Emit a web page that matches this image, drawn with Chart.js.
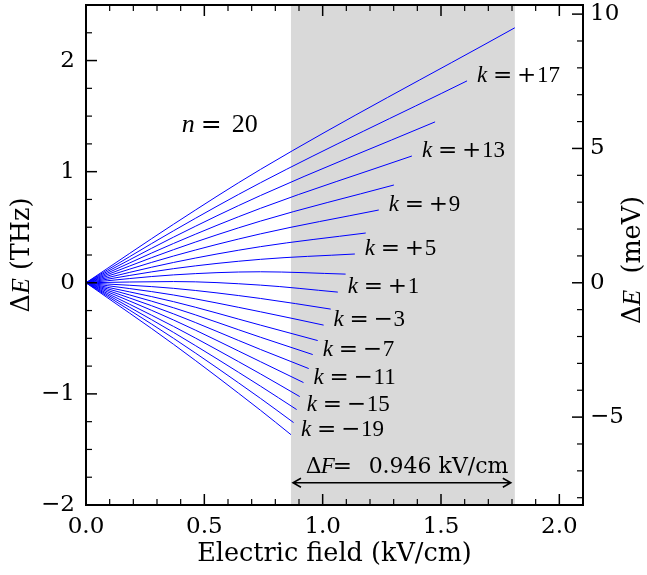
<!DOCTYPE html>
<html lang="en">
<head>
  <meta charset="UTF-8">
  <title>Stark map, n = 20</title>
  <script src="https://cdn.jsdelivr.net/npm/chart.js"></script>
  <style>
    html, body { margin: 0; padding: 0; background: #fff; }
    #wrap { width: 647px; height: 575px; }
  </style>
</head>
<body>
<div id="wrap"><canvas id="starkChart" width="647" height="575"></canvas></div>

<script>
  // Stark components of n = 20 (THz vs kV/cm)
  const kValues = [19, 17, 15, 13, 11, 9, 7, 5, 3, 1, -1, -3, -5, -7, -9, -11, -13, -15, -17, -19];
  const sampleFields = [0, 0.37, 0.737];
  const shiftAtF037 = [0.527, 0.468, 0.411, 0.354, 0.298, 0.241, 0.183, 0.127, 0.071, 0.011,
                       -0.050, -0.110, -0.170, -0.225, -0.280, -0.335, -0.393, -0.447, -0.500, -0.554];
  const shiftAtF0737 = [1.02, 0.90, 0.785, 0.67, 0.555, 0.44, 0.325, 0.211, 0.099, -0.021,
                        -0.141, -0.261, -0.381, -0.49, -0.60, -0.71, -0.82, -0.93, -1.04, -1.147];
  const endField = [1.812, 1.610, 1.475, 1.377, 1.301, 1.237, 1.182, 1.136, 1.097, 1.064,
                    1.034, 1.004, 0.979, 0.958, 0.941, 0.919, 0.903, 0.890, 0.877, 0.866];
  const endShift = [2.295, 1.817, 1.448, 1.141, 0.880, 0.655, 0.448, 0.259, 0.078, -0.084,
                    -0.237, -0.381, -0.520, -0.646, -0.772, -0.898, -1.024, -1.141, -1.258, -1.367];
  const labeledK = [17, 13, 9, 5, 1, -3, -7, -11, -15, -19];

  const xTicks = [0, 0.5, 1, 1.5, 2];
  const yTicksTHz = [-2, -1, 0, 1, 2];
  const yTicksMeV = [-5, 0, 5, 10];
  const THZ_TO_MEV = 4.135667;
  const deltaFText = '0.946 kV/cm';
  const nLabel = '20';

  const SERIF = '"DejaVu Serif", serif';
  const ITALIC = 'italic 23px "Liberation Serif", serif';
  const OPS = '23px "DejaVu Serif", serif';
  const NUMS = '23px "Liberation Serif", serif';
  const TITLE = '25.5px ' + SERIF;
  const TITLE_IT = 'italic 26px "Liberation Serif", serif';
  const minus = v => (v < 0 ? '\u2212' + Math.abs(v) : String(v));

  const datasets = kValues.map((k, i) => ({
    label: 'k = ' + k,
    data: [
      { x: sampleFields[0], y: 0 },
      { x: sampleFields[1], y: shiftAtF037[i] },
      { x: sampleFields[2], y: shiftAtF0737[i] },
      { x: endField[i], y: endShift[i] }
    ],
    borderColor: '#0000ff',
    borderWidth: 1,
    pointRadius: 0,
    cubicInterpolationMode: 'monotone',
    yAxisID: 'y'
  }));

  function pieces(ctx, x, y, parts) {
    parts.forEach(([text, font, dx]) => {
      ctx.font = font;
      ctx.fillText(text, x + dx, y);
    });
  }

  function rotatedTitle(ctx, cx, cy, parts) {
    let total = 0;
    parts.forEach(p => { ctx.font = p[1]; total += ctx.measureText(p[0]).width; });
    ctx.save();
    ctx.translate(cx, cy);
    ctx.rotate(-Math.PI / 2);
    ctx.textBaseline = 'middle';
    ctx.textAlign = 'left';
    let x = -total / 2;
    parts.forEach(p => {
      ctx.font = p[1];
      ctx.fillText(p[0], x, 0);
      x += ctx.measureText(p[0]).width;
    });
    ctx.restore();
  }

  const decor = {
    id: 'decor',
    beforeDatasetsDraw(chart) {
      const { ctx, chartArea, scales } = chart;
      const left = scales.x.getPixelForValue(endField[endField.length - 1]);
      const right = scales.x.getPixelForValue(endField[0]);
      ctx.save();
      ctx.fillStyle = '#d9d9d9';
      ctx.fillRect(left, chartArea.top, right - left, chartArea.bottom - chartArea.top);
      ctx.restore();
    },
    afterDatasetsDraw(chart) {
      const { ctx, chartArea: a, scales } = chart;
      const sx = scales.x, sy = scales.y, sr = scales.y2;
      ctx.save();
      ctx.strokeStyle = '#000';
      ctx.fillStyle = '#000';

      // inward ticks on all four sides
      const tick = (x1, y1, x2, y2, w) => {
        ctx.lineWidth = w;
        ctx.beginPath(); ctx.moveTo(x1, y1); ctx.lineTo(x2, y2); ctx.stroke();
      };
      for (let i = 0; i <= 21; i++) {
        const v = i / 10;
        const px = sx.getPixelForValue(v);
        const major = i % 5 === 0;
        const len = major ? 11 : 6;
        tick(px, a.bottom, px, a.bottom - len, major ? 1.5 : 1.2);
        tick(px, a.top, px, a.top + len, major ? 1.5 : 1.2);
      }
      for (let i = -8; i <= 10; i++) {
        const v = i / 4;
        const py = sy.getPixelForValue(v);
        const major = i % 4 === 0;
        tick(a.left, py, a.left + (major ? 11 : 6), py, major ? 1.5 : 1.2);
      }
      for (let v = -8; v <= 10; v++) {
        const py = sr.getPixelForValue(v);
        const major = v % 5 === 0;
        tick(a.right, py, a.right - (major ? 11 : 6), py, major ? 1.5 : 1.2);
      }

      // frame
      ctx.lineWidth = 2;
      ctx.strokeRect(a.left, a.top, a.right - a.left, a.bottom - a.top);

      // k labels at the end of every other line
      ctx.textAlign = 'left';
      ctx.textBaseline = 'alphabetic';
      labeledK.forEach(k => {
        const i = kValues.indexOf(k);
        const x = sx.getPixelForValue(endField[i]) + 10;
        const y = sy.getPixelForValue(endShift[i]) + 1;
        pieces(ctx, x, y, [
          ['k', ITALIC, 0],
          ['=', OPS, 16],
          [k < 0 ? '\u2212' : '+', OPS, 40],
          [String(Math.abs(k)), NUMS, 60]
        ]);
      });

      // n = 20
      pieces(ctx, sx.getPixelForValue(0.405), sy.getPixelForValue(1.36), [
        ['n', 'italic 26px "Liberation Serif", serif', 0],
        ['=', '25px "DejaVu Serif", serif', 19],
        [nLabel, '26px "Liberation Serif", serif', 50]
      ]);

      // Delta F arrow across the shaded band
      const x1 = sx.getPixelForValue(endField[endField.length - 1]) + 2;
      const x2 = sx.getPixelForValue(endField[0]) - 4;
      const ya = sy.getPixelForValue(-1.80);
      ctx.lineWidth = 1.5;
      ctx.beginPath();
      ctx.moveTo(x1, ya); ctx.lineTo(x2, ya);
      ctx.moveTo(x1 + 8, ya - 4.5); ctx.lineTo(x1, ya); ctx.lineTo(x1 + 8, ya + 4.5);
      ctx.moveTo(x2 - 8, ya - 4.5); ctx.lineTo(x2, ya); ctx.lineTo(x2 - 8, ya + 4.5);
      ctx.stroke();
      pieces(ctx, sx.getPixelForValue(0.928), sy.getPixelForValue(-1.71), [
        ['\u0394', '22px ' + SERIF, 0],
        ['F', ITALIC, 15],
        ['=', OPS, 27],
        [deltaFText, '22px ' + SERIF, 63]
      ]);

      // axis titles with italic E
      rotatedTitle(ctx, 22, (a.top + a.bottom) / 2, [
        ['\u0394', TITLE], ['E', TITLE_IT], [' (THz)', TITLE]
      ]);
      rotatedTitle(ctx, 633, (a.top + a.bottom) / 2 + 5, [
        ['\u0394', TITLE], ['E', TITLE_IT], ['  (meV)', TITLE]
      ]);
      ctx.restore();
    }
  };

  const tickFont = { family: SERIF, size: 23 };

  new Chart(document.getElementById('starkChart'), {
    type: 'line',
    data: { datasets: datasets },
    options: {
      responsive: false,
      animation: false,
      devicePixelRatio: 1,
      layout: { padding: { top: 5, left: 0, right: 0, bottom: 0 } },
      plugins: { legend: { display: false }, tooltip: { enabled: false } },
      scales: {
        x: {
          type: 'linear',
          min: 0,
          max: 2.1,
          afterBuildTicks: s => { s.ticks = xTicks.map(v => ({ value: v })); },
          afterFit: s => { s.height = 70; s.paddingLeft = 0; s.paddingRight = 0; },
          ticks: { callback: v => Number(v).toFixed(1), font: tickFont, color: '#000', padding: 8, maxRotation: 0, autoSkip: false },
          grid: { display: false, drawTicks: false },
          border: { display: false },
          title: { display: true, text: 'Electric field (kV/cm)', font: { family: SERIF, size: 25.5 }, color: '#000', padding: { top: 0, bottom: 5 } }
        },
        y: {
          type: 'linear',
          position: 'left',
          min: -2,
          max: 2.5,
          afterBuildTicks: s => { s.ticks = yTicksTHz.map(v => ({ value: v })); },
          afterFit: s => { s.width = 86; s.paddingTop = 0; s.paddingBottom = 0; },
          ticks: { callback: v => minus(v), font: tickFont, color: '#000', padding: 11, autoSkip: false },
          grid: { display: false, drawTicks: false },
          border: { display: false }
        },
        y2: {
          type: 'linear',
          position: 'right',
          min: -2 * THZ_TO_MEV,
          max: 2.5 * THZ_TO_MEV,
          afterBuildTicks: s => { s.ticks = yTicksMeV.map(v => ({ value: v })); },
          afterFit: s => { s.width = 64; s.paddingTop = 0; s.paddingBottom = 0; },
          ticks: { callback: v => minus(v), font: tickFont, color: '#000', padding: 7, autoSkip: false },
          grid: { display: false, drawTicks: false },
          border: { display: false }
        }
      }
    },
    plugins: [decor]
  });
</script>
</body>
</html>
